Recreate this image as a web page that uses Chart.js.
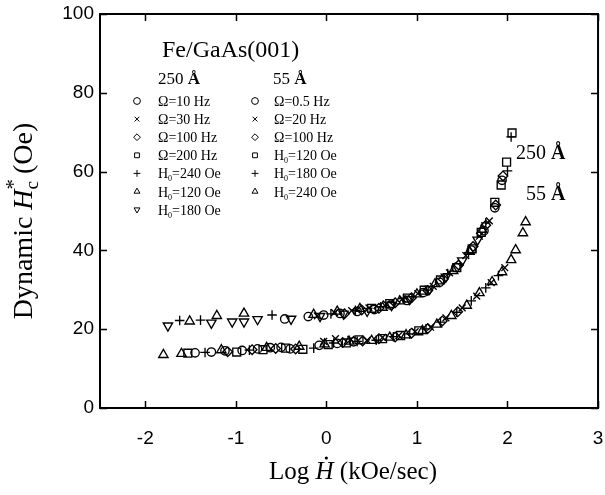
<!DOCTYPE html>
<html>
<head>
<meta charset="utf-8">
<script src="https://cdn.jsdelivr.net/npm/chart.js@4.4.0/dist/chart.umd.min.js"></script>
<style>
  html, body { margin: 0; padding: 0; background: #fff; }
  #wrap { width: 605px; height: 495px; }
</style>
</head>
<body>
<div id="wrap"><canvas id="c" width="605" height="495"></canvas></div>
<script>
// Axis ticks
const xTicks = [-2, -1, 0, 1, 2, 3];
const yTicks = [0, 20, 40, 60, 80, 100];

// 250 Å film: [log sweep rate (kOe/s), dynamic coercivity (Oe)]
const f250_w10  = [[-0.46,22.6],[-0.2,23.2],[-0.03,23.6],[0.15,24.0],[0.34,24.5],[0.53,25.0],[0.71,26.1],[0.89,27.3],[1.07,29.3],[1.25,31.9],[1.43,35.7],[1.6,40.1],[1.74,45.0],[1.86,50.8],[1.94,57.8]];
const f250_w30  = [[-0.1,23.4],[0.09,24.2],[0.28,24.7],[0.47,25.4],[0.66,26.4],[0.84,27.7],[1.01,29.0],[1.18,30.9],[1.36,34.3],[1.54,38.7],[1.69,43.6],[1.8,47.5]];
const f250_w100 = [[0.2,23.9],[0.39,24.9],[0.58,25.3],[0.76,26.7],[0.94,28.0],[1.12,29.8],[1.29,32.7],[1.46,36.3],[1.62,41.0],[1.76,46.4],[1.87,51.5],[1.95,58.9]];
const f250_w200 = [[0.5,25.3],[0.7,26.5],[0.9,27.9],[1.08,29.9],[1.26,32.5],[1.44,35.6],[1.61,40.4],[1.71,44.6],[1.86,52.2],[1.93,56.6],[1.99,62.4],[2.05,69.8]];
const f250_h240 = [[-1.62,22.2],[-1.39,22.3],[-0.6,23.6],[0.05,23.9],[0.32,24.8],[0.6,25.7],[0.85,27.8],[1.1,29.9],[1.34,34.1],[1.57,39.4],[1.76,47.0],[2.0,60.2],[2.04,68.8]];
const f250_h120 = [[-1.51,22.0],[-1.21,23.4],[-0.91,24.0],[-0.14,23.7],[0.12,24.5],[0.37,25.2],[0.62,25.5],[0.81,27.1],[1.0,28.9],[1.2,31.5],[1.4,34.8],[1.58,39.7],[1.72,45.3]];
const f250_h180 = [[-1.75,20.9],[-1.27,21.6],[-1.04,21.9],[-0.91,21.9],[-0.76,22.5],[-0.39,22.6],[-0.07,23.3],[0.19,23.9],[0.45,24.6],[0.72,26.1],[0.92,27.6],[1.14,30.2],[1.32,33.3],[1.5,37.4],[1.67,42.7]];

// 55 Å film
const f55_w05  = [[-1.45,14.0],[-1.27,14.2],[-1.12,14.5],[-0.93,14.6],[-0.76,15.0],[-0.62,15.3],[-0.5,15.4],[-0.4,15.0],[-0.08,15.9],[0.12,16.4],[0.3,16.8]];
const f55_w20  = [[-0.03,16.9],[0.1,17.6],[0.27,17.4],[0.45,17.2],[0.62,17.9],[0.8,18.4],[0.98,19.4],[1.15,20.5],[1.32,22.9],[1.5,25.4],[1.66,28.4],[1.82,31.8],[1.97,35.6]];
const f55_w100 = [[-1.09,14.3],[-0.82,14.8],[-0.56,15.1],[-0.34,15.0],[0.18,16.6],[0.4,17.0],[0.58,17.6],[0.76,18.0],[0.94,19.0],[1.12,20.2],[1.28,22.1],[1.45,24.4]];
const f55_h120 = [[-1.53,13.9],[-0.99,14.2],[-0.7,14.8],[-0.45,15.2],[-0.26,14.9],[0.02,16.1],[0.22,16.5],[0.36,17.3],[0.62,17.6],[0.82,18.4],[1.02,19.6]];
const f55_h180 = [[-1.34,14.1],[-0.85,14.7],[-0.14,15.2],[0.08,16.5],[0.34,16.9],[0.55,17.2],[0.74,18.1],[0.92,18.8],[1.1,20.1],[1.26,21.8],[1.44,24.3],[1.6,27.2],[1.76,30.5],[1.9,33.6]];
const f55_h240 = [[-1.8,13.5],[-1.6,13.8],[-1.16,14.7],[-0.66,15.3],[-0.3,15.6],[-0.02,16.2],[0.25,16.9],[0.5,17.1],[0.7,17.9],[0.88,18.5],[1.06,19.6],[1.22,21.2],[1.38,23.4],[1.55,26.0],[1.69,29.2],[1.83,32.0],[1.94,34.5],[2.04,37.6],[2.09,40.1],[2.17,44.4],[2.2,47.2]];

// Series labels
const labels250 = ['Ω=10 Hz','Ω=30 Hz','Ω=100 Hz','Ω=200 Hz','H0=240 Oe','H0=120 Oe','H0=180 Oe'];
const labels55  = ['Ω=0.5 Hz','Ω=20 Hz','Ω=100 Hz','H0=120 Oe','H0=180 Oe','H0=240 Oe'];

const SERIF = '"Liberation Serif", "Times New Roman", serif';
const SANS = '"Liberation Sans", Arial, sans-serif';

// Marker shapes
const MK = {
  circle:  { pointStyle: 'circle',   radius: 4.2, rotation: 0 },
  x:       { pointStyle: 'crossRot', radius: 4.8, rotation: 0 },
  diamond: { pointStyle: 'rectRot',  radius: 4.8, rotation: 0 },
  square:  { pointStyle: 'rect',     radius: 5.6, rotation: 0 },
  plus:    { pointStyle: 'cross',    radius: 4.8, rotation: 0 },
  tri:     { pointStyle: 'triangle', radius: 5.4, rotation: 0 },
  itri:    { pointStyle: 'triangle', radius: 5.4, rotation: 180 }
};

const series250 = [f250_w10, f250_w30, f250_w100, f250_w200, f250_h240, f250_h120, f250_h180];
const marks250  = ['circle','x','diamond','square','plus','tri','itri'];
const series55  = [f55_w05, f55_w20, f55_w100, f55_h120, f55_h180, f55_h240];
const marks55   = ['circle','x','diamond','square','plus','tri'];

function makeSet(pts, mk, label, group) {
  const m = MK[mk];
  return {
    label: label,
    group: group,
    mk: mk,
    data: pts.map(p => ({ x: p[0], y: p[1] })),
    showLine: false,
    borderColor: '#000',
    backgroundColor: 'rgba(0,0,0,0)',
    pointBorderColor: '#000',
    pointBackgroundColor: 'rgba(0,0,0,0)',
    pointBorderWidth: 1.35,
    pointStyle: m.pointStyle,
    pointRotation: m.rotation,
    pointRadius: m.radius,
    pointHoverRadius: m.radius
  };
}

const datasets = [];
series250.forEach((s, i) => datasets.push(makeSet(s, marks250[i], labels250[i], 250)));
series55.forEach((s, i) => datasets.push(makeSet(s, marks55[i], labels55[i], 55)));

// Text runs with individual fonts and vertical offsets
function runsWidth(ctx, runs) {
  let w = 0;
  runs.forEach(r => { ctx.font = r.font; if (!r.stack) w += ctx.measureText(r.t).width; });
  return w;
}
function drawRuns(ctx, runs, x, y) {
  let cx = x;
  let lastW = 0;
  runs.forEach(r => {
    ctx.font = r.font;
    const w = ctx.measureText(r.t).width;
    if (r.stack) {
      ctx.fillText(r.t, cx - lastW, y + (r.dy || 0));
    } else {
      ctx.fillText(r.t, cx, y + (r.dy || 0));
      cx += w;
      lastW = w;
    }
  });
}

function labelRuns(label, size) {
  const f = size + 'px ' + SERIF;
  if (label.startsWith('H0')) {
    return [
      { t: 'H', font: f },
      { t: '0', font: Math.round(size * 0.6) + 'px ' + SERIF, dy: 3 },
      { t: label.slice(2), font: f }
    ];
  }
  return [{ t: label, font: f }];
}

function marker(ctx, mk, x, y, radius) {
  const m = MK[mk];
  ctx.save();
  ctx.strokeStyle = '#000';
  ctx.fillStyle = 'rgba(0,0,0,0)';
  ctx.lineWidth = 1;
  Chart.helpers.drawPoint(ctx, {
    pointStyle: m.pointStyle,
    rotation: m.rotation,
    radius: radius,
    borderWidth: 1
  }, x, y);
  ctx.restore();
}

const decor = {
  id: 'decor',
  afterDraw(chart) {
    const ctx = chart.ctx;
    const a = chart.chartArea;
    const xs = chart.scales.x, ys = chart.scales.y;
    ctx.save();

    // frame
    ctx.strokeStyle = '#000';
    ctx.lineWidth = 2;
    ctx.strokeRect(a.left, a.top, a.right - a.left, a.bottom - a.top);

    // inward ticks on all four sides
    ctx.lineWidth = 1.5;
    const tl = 7;
    ctx.beginPath();
    xTicks.forEach(v => {
      const px = Math.round(xs.getPixelForValue(v)) + 0.5;
      ctx.moveTo(px, a.bottom); ctx.lineTo(px, a.bottom - tl);
      ctx.moveTo(px, a.top); ctx.lineTo(px, a.top + tl);
    });
    yTicks.forEach(v => {
      const py = Math.round(ys.getPixelForValue(v)) + 0.5;
      ctx.moveTo(a.left, py); ctx.lineTo(a.left + tl, py);
      ctx.moveTo(a.right, py); ctx.lineTo(a.right - tl, py);
    });
    ctx.stroke();

    ctx.fillStyle = '#000';
    ctx.textBaseline = 'alphabetic';
    ctx.textAlign = 'left';

    // x-axis title: Log Ḣ (kOe/sec)
    const xr = [
      { t: 'Log ', font: '25px ' + SERIF },
      { t: 'H', font: 'italic 25px ' + SERIF },
      { t: ' (kOe/sec)', font: '25px ' + SERIF }
    ];
    const xw = runsWidth(ctx, xr);
    const xx0 = 353 - xw / 2, xy0 = 479;
    drawRuns(ctx, xr, xx0, xy0);
    // dot over H
    ctx.font = '25px ' + SERIF;
    const logW = ctx.measureText('Log ').width;
    ctx.font = 'italic 25px ' + SERIF;
    const hW = ctx.measureText('H').width;
    ctx.beginPath();
    ctx.arc(xx0 + logW + hW * 0.6, xy0 - 21, 1.6, 0, Math.PI * 2);
    ctx.fill();

    // y-axis title: Dynamic H_c^* (Oe)
    ctx.save();
    ctx.translate(32, 221);
    ctx.rotate(-Math.PI / 2);
    const yr = [
      { t: 'Dynamic ', font: '28px ' + SERIF },
      { t: 'H', font: 'italic 28px ' + SERIF },
      { t: 'c', font: '19px ' + SERIF, dy: 6 },
      { t: '*', font: '21px ' + SERIF, dy: -12, stack: true },
      { t: ' (Oe)', font: '28px ' + SERIF }
    ];
    const yw = runsWidth(ctx, yr);
    drawRuns(ctx, yr, -yw / 2, 0);
    ctx.restore();

    // legend block
    ctx.font = '24px ' + SERIF;
    ctx.fillText('Fe/GaAs(001)', 162, 57);

    function header(text, x, y, size) {
      ctx.font = size + 'px ' + SERIF;
      ctx.fillText(text, x, y);
      const w = ctx.measureText(text).width;
      ctx.font = 'bold ' + size + 'px ' + SERIF;
      ctx.fillText('Å', x + w, y);
    }
    header('250 ', 158, 84, 17);
    header('55 ', 273, 84, 17);

    const rowY0 = 101, rowDy = 18.1;
    const col = { 250: { mx: 137, tx: 158 }, 55: { mx: 255, tx: 274 } };
    const counters = { 250: 0, 55: 0 };
    chart.data.datasets.forEach(ds => {
      const c = col[ds.group];
      const i = counters[ds.group]++;
      const y = rowY0 + i * rowDy;
      marker(ctx, ds.mk, c.mx, y, 3.4);
      ctx.fillStyle = '#000';
      drawRuns(ctx, labelRuns(ds.label, 14), c.tx, y + 5);
    });

    // curve annotations
    header('250 ', 516, 159, 20);
    header('55 ', 526, 200, 20);

    ctx.restore();
  }
};

new Chart(document.getElementById('c'), {
  type: 'scatter',
  data: { datasets: datasets },
  options: {
    responsive: false,
    animation: false,
    events: [],
    layout: { padding: { top: 14, right: 5, left: 0, bottom: 0 } },
    plugins: { legend: { display: false }, tooltip: { enabled: false } },
    scales: {
      x: {
        type: 'linear',
        min: -2.5, max: 3,
        grid: { display: false, drawTicks: false },
        border: { display: false },
        afterBuildTicks: s => { s.ticks = xTicks.map(v => ({ value: v })); },
        afterFit: s => { s.height = 87; s.paddingLeft = 0; s.paddingRight = 0; },
        ticks: { color: '#000', padding: 19, font: { family: SANS, size: 19 } }
      },
      y: {
        type: 'linear',
        min: 0, max: 100,
        grid: { display: false, drawTicks: false },
        border: { display: false },
        afterBuildTicks: s => { s.ticks = yTicks.map(v => ({ value: v })); },
        afterFit: s => { s.width = 100; s.paddingTop = 0; s.paddingBottom = 0; },
        ticks: { color: '#000', padding: 6, font: { family: SANS, size: 19 } }
      }
    }
  },
  plugins: [decor]
});
</script>
</body>
</html>
